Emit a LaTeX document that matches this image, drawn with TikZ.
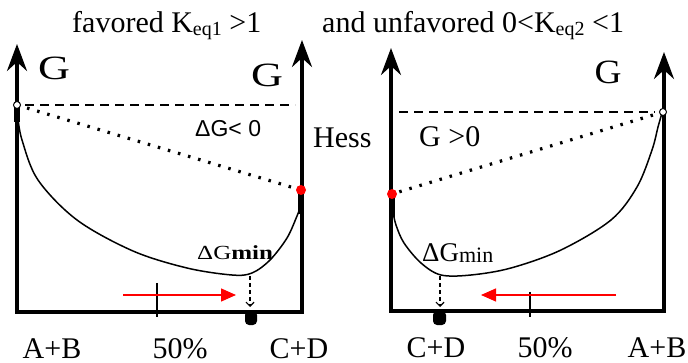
\documentclass[tikz,border=0pt]{standalone}
\usepackage{fontspec}
\usepackage{graphicx}
\setmainfont{Liberation Serif}
\newfontfamily\labsans{Liberation Sans}
\usetikzlibrary{arrows.meta,positioning,calc}
\newcommand\eqsub[1]{\raisebox{-3pt}{\fontsize{20}{20}\selectfont #1}}

\begin{document}
\begin{tikzpicture}[x=1pt,y=-1pt,
    axis/.style={line width=3.5pt,-{Stealth[length=27pt,width=20pt,inset=9pt]}},
    frame/.style={line width=3.5pt,line cap=rect},
    curve/.style={line width=1.5pt},
    onaxis/.style={line width=5.5pt},
    level/.style={line width=2pt,dash pattern=on 9pt off 6pt},
    chord/.style={line width=3.2pt,dash pattern=on 2.5pt off 8pt},
    flow/.style={red,line width=1.3pt,-{Triangle[length=15pt,width=13pt]}},
    drop/.style={line width=1.2pt,dash pattern=on 4pt off 3pt,-{Straight Barb[length=4pt,width=8pt]}},
    txt/.style={font=\fontsize{30}{32}\selectfont,inner sep=0pt,anchor=base},
    axlab/.style={txt,font=\fontsize{34}{36}\selectfont},
  ]
  \useasboundingbox (0,0) rectangle (688,363);

  % titles
  \node[txt,anchor=base west] (titleL) at (72,33) {favored K\eqsub{eq1} >1};
  \node[txt,anchor=base west] (titleR) at (322,33) {and unfavored 0<K\eqsub{eq2} <1};

  % left panel: favored
  \coordinate (Lo) at (17,312);
  \coordinate (Lr) at (302,312);
  \coordinate (Ltop) at (17,44);
  \coordinate (Rtop) at (302,40);
  \draw[frame] (Lo) -- (Lr);
  \draw[axis] (Lo) -- (Ltop);
  \draw[axis] (Lr) -- (Rtop);
  \coordinate (Lstart) at (17,105);
  \coordinate (Lend) at (301,190);
  \draw[level] (25,105) -- (295,105);
  \draw[chord] (Lstart) -- (Lend);
  \draw[onaxis] (17,106) -- (17,122);
  \draw[onaxis] (301,194) -- (301,214);
  \draw[curve] plot[smooth,tension=.55] coordinates {(18,118) (22,140) (38,180) (77,220) (133,251) (187,268) (232,275) (252,273) (270,260) (287,238) (297,216) (300,208)};
  \draw[line width=1pt,fill=white] (Lstart) circle[radius=3.5];
  \fill[red] (Lend) circle[radius=5];
  \draw[line width=1.5pt] (157,283) -- (157,317);
  \coordinate (Lmin) at (250,276);
  \coordinate (Lfoot) at (250,307);
  \draw[drop] (Lmin) -- (Lfoot);
  \fill[rounded corners=4pt] (245,311) rectangle (257,325);
  \coordinate (Lflow) at (123,295);
  \coordinate (Lflowend) at (236,295);
  \draw[flow] (Lflow) -- (Lflowend);
  \node[axlab] (GLl) at (54,80) {\scalebox{1.3}[1]{G}};
  \node[axlab] (GLr) at (267,87) {\scalebox{1.3}[1]{G}};
  \node[txt,anchor=base west,font=\labsans\fontsize{23}{24}\selectfont] (dGneg) at (195,137) {ΔG< 0};
  \node[txt,anchor=base west,font=\fontsize{20}{22}\selectfont] (dGminL) at (197,260) {\scalebox{1.25}[1]{ΔG\textbf{min}}};
  \node[txt] (abL) at (52,358) {A+B};
  \node[txt] (halfL) at (180,358) {50\%};
  \node[txt] (cdL) at (299,358) {C+D};

  \node[txt,anchor=base west] (hess) at (313,148) {Hess};

  % right panel: unfavored
  \coordinate (Ro) at (391,311);
  \coordinate (Rr) at (664,311);
  \coordinate (Rltop) at (391,48);
  \coordinate (Rrtop) at (664,52);
  \draw[frame] (Ro) -- (Rr);
  \draw[axis] (Ro) -- (Rltop);
  \draw[axis] (Rr) -- (Rrtop);
  \coordinate (Rstart) at (663,112);
  \coordinate (Rend) at (392,194);
  \draw[level] (399,112) -- (655,112);
  \draw[chord] (Rstart) -- (Rend);
  \draw[onaxis] (392,197) -- (392,217);
  \draw[curve] plot[smooth,tension=.55] coordinates {(393,212) (396,225) (404,243) (421,263) (441,275) (471,275) (511,268) (561,250) (611,220) (637,187) (652,150) (658,127) (662,113)};
  \draw[line width=1pt,fill=white] (Rstart) circle[radius=3.5];
  \fill[red] (Rend) circle[radius=5];
  \draw[line width=1.5pt] (530,292) -- (530,317);
  \coordinate (Rmin) at (440,276);
  \coordinate (Rfoot) at (440,307);
  \draw[drop] (Rmin) -- (Rfoot);
  \fill[rounded corners=4pt] (433,311) rectangle (446,325);
  \coordinate (Rflow) at (616,295);
  \coordinate (Rflowend) at (481,295);
  \draw[flow] (Rflow) -- (Rflowend);
  \node[axlab] (GR) at (608,84) {\scalebox{1.1}[1]{G}};
  \node[txt,anchor=base west] (dGpos) at (419,147) {G >0};
  \node[txt,anchor=base west,font=\fontsize{27}{28}\selectfont] (dGminR) at (422,262) {ΔG\raisebox{-1pt}{\fontsize{22}{22}\selectfont min}};
  \node[txt] (cdR) at (436,357) {C+D};
  \node[txt] (halfR) at (545,357) {50\%};
  \node[txt] (abR) at (657,357) {A+B};
\end{tikzpicture}
\end{document}
